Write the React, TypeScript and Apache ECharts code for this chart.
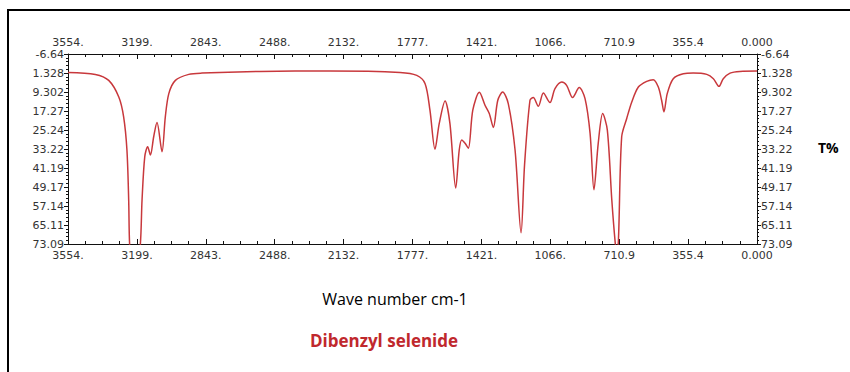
import React, { useEffect, useRef } from "react";
import * as echarts from "echarts";

const wavenumbers = [3554, 3413, 3344, 3292, 3267, 3250, 3241, 3236, 3214, 3181, 3172, 3158, 3143, 3129, 3112, 3095, 3069, 3052, 3034, 3000, 2931, 2863, 2564, 2202, 1841, 1755, 1712, 1687, 1661, 1639, 1609, 1584, 1554, 1536, 1523, 1506, 1489, 1466, 1432, 1403, 1381, 1360, 1337, 1312, 1283, 1248, 1217, 1199, 1171, 1154, 1128, 1102, 1068, 1042, 1007, 982, 951, 917, 887, 861, 841, 819, 796, 772, 749, 732, 724, 715, 698, 672, 646, 612, 569, 535, 509, 492, 480, 463, 432, 380, 329, 259, 225, 196, 174, 139, 88, 0];
const transmittance = [1.1, 1.92, 4.42, 11.39, 19.74, 33.64, 54.51, 73.5, 98, 73.5, 54.51, 36.44, 32.26, 35.73, 28.09, 22.08, 34.35, 19.74, 9.97, 4.42, 1.92, 1.37, 0.67, 0.46, 1.08, 2.33, 5.8, 16.94, 33.35, 22.5, 13.06, 22.5, 49.63, 33.64, 29.47, 30.85, 32.93, 16.94, 9.43, 14.86, 18.32, 24.17, 12.77, 9.31, 14.15, 33.64, 68.41, 39.9, 12.77, 11.64, 15.28, 9.72, 13.73, 7.89, 5.13, 6.51, 11.64, 7.47, 12.06, 26.67, 50.34, 30.85, 18.32, 25.29, 54.51, 72, 77, 72, 28.09, 20.41, 13.48, 7.22, 4.84, 4.13, 7.22, 12.77, 17.65, 9.97, 3.71, 1.63, 1.37, 1.92, 3.71, 6.93, 3.71, 1.37, 0.67, 0.54];

const xTickLabels = ["0.000", "355.4", "710.9", "1066.", "1421.", "1777.", "2132.", "2488.", "2843.", "3199.", "3554."];
const yTickLabels = ["-6.64", "1.328", "9.302", "17.27", "25.24", "33.22", "41.19", "49.17", "57.14", "65.11", "73.09"];

const X_MIN = 0;
const X_MAX = 3554;
const X_INT = 355.4;
const Y_MIN = -6.64;
const Y_MAX = 73.09;
const Y_INT = 7.973;

const xAxisTitle = "Wave number cm-1";
const yAxisTitle = "T%";
const compoundName = "Dibenzyl selenide";

const labelFont = {
  fontFamily: "DejaVu Sans",
  fontSize: 11,
  color: "#333",
};

function xLabel(v: number) {
  const i = Math.round((v - X_MIN) / X_INT);
  return xTickLabels[i] ?? "";
}
function yLabel(v: number) {
  const i = Math.round((v - Y_MIN) / Y_INT);
  return yTickLabels[i] ?? "";
}

export default function App() {
  const ref = useRef<HTMLDivElement>(null);
  useEffect(() => {
    if (!ref.current) return;
    const chart = echarts.init(ref.current, null, { renderer: "svg" });
    const data = wavenumbers.map((w, i) => [w, transmittance[i]]);
    const xCommon = (position: "top" | "bottom") => ({
      type: "value" as const,
      position,
      min: X_MIN,
      max: X_MAX,
      interval: X_INT,
      inverse: true,
      axisLine: { show: true, onZero: false, lineStyle: { color: "#111", width: 1 } },
      axisTick: { show: true, inside: true, length: 5, lineStyle: { color: "#111" } },
      minorTick: { show: true, splitNumber: 4, length: 3, lineStyle: { color: "#111" } },
      splitLine: { show: false },
      axisLabel: { ...labelFont, margin: 6, formatter: xLabel, showMinLabel: true, showMaxLabel: true },
    });
    const yCommon = (position: "left" | "right") => ({
      type: "value" as const,
      position,
      min: Y_MIN,
      max: Y_MAX,
      interval: Y_INT,
      inverse: true,
      axisLine: { show: true, onZero: false, lineStyle: { color: "#111", width: 1 } },
      axisTick: { show: true, inside: false, length: 4, lineStyle: { color: "#111" } },
      minorTick: { show: true, splitNumber: 5, length: 2, lineStyle: { color: "#111" } },
      splitLine: { show: false },
      axisLabel: { ...labelFont, margin: 4, formatter: yLabel, showMinLabel: true, showMaxLabel: true },
    });
    chart.setOption({
      animation: false,
      backgroundColor: "#fff",
      grid: { left: 68, top: 54, width: 689, height: 190, containLabel: false },
      xAxis: [xCommon("bottom"), xCommon("top")],
      yAxis: [yCommon("left"), yCommon("right")],
      series: [
        {
          type: "line",
          xAxisIndex: 0,
          yAxisIndex: 0,
          data,
          smooth: 0.3,
          showSymbol: false,
          clip: true,
          lineStyle: { color: "#c8383c", width: 1.5 },
        },
      ],
      graphic: [
        {
          type: "rect",
          shape: { x: 8, y: 10, width: 1200, height: 800 },
          style: { fill: "none", stroke: "#000", lineWidth: 2 },
          silent: true,
        },
        {
          type: "text",
          x: 818,
          y: 140,
          style: { text: yAxisTitle, font: "bold 14px 'Open Sans'", fill: "#000" },
        },
        {
          type: "text",
          x: 395,
          y: 291,
          style: { text: xAxisTitle, font: "16px 'Open Sans'", fill: "#000", textAlign: "center" },
        },
        {
          type: "text",
          x: 384,
          y: 332,
          style: { text: compoundName, font: "bold 17px 'Open Sans'", fill: "#c0282d", textAlign: "center" },
        },
      ],
    });
    return () => chart.dispose();
  }, []);
  return (
    <div
      ref={ref}
      style={{ position: "fixed", left: 0, top: 0, width: 850, height: 372 }}
    />
  );
}
